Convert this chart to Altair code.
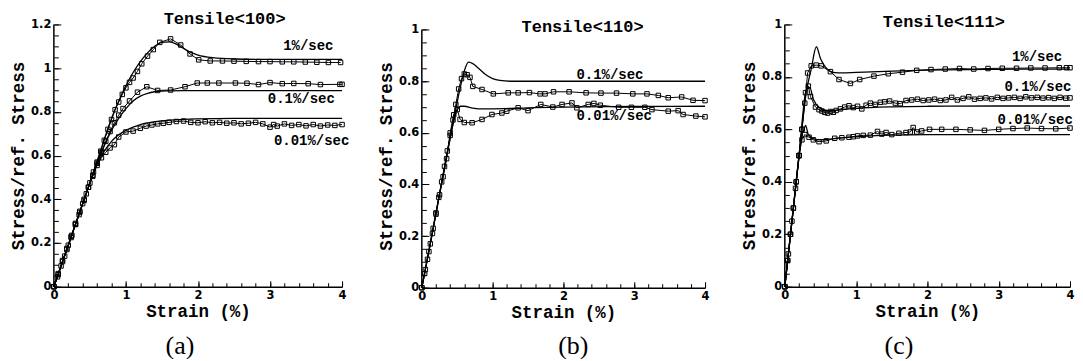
import altair as alt
import pandas as pd

# ---------------- Panel (a): Tensile<100> ----------------
a_model_1_x = [0, 0.2, 0.4, 0.6, 0.8, 0.9, 1.0, 1.1, 1.2, 1.3, 1.4, 1.5, 1.6, 1.7, 1.8, 1.9, 2.0, 2.2, 2.5, 3.0, 3.5, 4.0]
a_model_1_y = [0, 0.19, 0.38, 0.575, 0.77, 0.85, 0.92, 0.98, 1.03, 1.07, 1.10, 1.118, 1.12, 1.11, 1.09, 1.072, 1.06, 1.048, 1.042, 1.04, 1.04, 1.04]
a_exp_1_x = [0, 0.05, 0.1, 0.15, 0.2, 0.25, 0.3, 0.35, 0.4, 0.45, 0.5, 0.55, 0.6, 0.65, 0.7, 0.75, 0.8, 0.85, 0.9, 0.95,
             1.0, 1.05, 1.1, 1.16, 1.22, 1.3, 1.38, 1.47, 1.62, 1.76, 1.89, 2.01, 2.17, 2.34, 2.5, 2.67, 2.84, 3.0, 3.17, 3.33,
             3.49, 3.65, 3.81, 3.98]
a_exp_1_y = [0, 0.045, 0.095, 0.14, 0.19, 0.235, 0.285, 0.33, 0.38, 0.425, 0.475, 0.525, 0.57, 0.62, 0.67, 0.72, 0.765, 0.81, 0.845, 0.88,
             0.91, 0.935, 0.955, 0.985, 1.02, 1.055, 1.085, 1.118, 1.134, 1.106, 1.065, 1.038, 1.033, 1.033, 1.032, 1.031, 1.03, 1.03, 1.029, 1.029,
             1.028, 1.027, 1.026, 1.026]
a_model_01_x = [0, 0.2, 0.4, 0.6, 0.7, 0.8, 0.9, 1.0, 1.1, 1.2, 1.3, 1.4, 1.5, 1.6, 1.8, 2.0, 2.5, 3.0, 3.5, 4.0]
a_model_01_y = [0, 0.19, 0.38, 0.565, 0.645, 0.715, 0.77, 0.815, 0.85, 0.872, 0.885, 0.892, 0.895, 0.896, 0.897, 0.897, 0.897, 0.897, 0.897, 0.897]
a_exp_01_x = [0, 0.06, 0.12, 0.18, 0.24, 0.3, 0.36, 0.42, 0.48, 0.54, 0.6, 0.66, 0.72, 0.78, 0.84, 0.9, 0.96, 1.05, 1.16, 1.29,
              1.44, 1.62, 1.82, 1.99, 2.13, 2.29, 2.52, 2.68, 2.84, 3.0, 3.17, 3.33, 3.53, 3.7, 3.97, 4.0]
a_exp_01_y = [0, 0.055, 0.115, 0.17, 0.225, 0.285, 0.34, 0.395, 0.455, 0.51, 0.565, 0.615, 0.665, 0.71, 0.75, 0.785, 0.815, 0.85, 0.89, 0.915,
              0.898, 0.90, 0.915, 0.932, 0.932, 0.932, 0.932, 0.931, 0.925, 0.934, 0.929, 0.93, 0.929, 0.925, 0.926, 0.926]
a_model_001_x = [0, 0.2, 0.4, 0.6, 0.7, 0.8, 0.9, 1.0, 1.1, 1.2, 1.4, 1.6, 1.8, 2.0, 2.5, 3.0, 4.0]
a_model_001_y = [0, 0.19, 0.38, 0.56, 0.62, 0.665, 0.695, 0.715, 0.73, 0.742, 0.755, 0.762, 0.766, 0.768, 0.77, 0.77, 0.77]
a_exp_001_x = [0, 0.06, 0.12, 0.18, 0.24, 0.3, 0.36, 0.42, 0.48, 0.54, 0.6, 0.66, 0.72, 0.78, 0.84, 0.9, 1.0, 1.1, 1.2, 1.28,
               1.36, 1.44, 1.52, 1.6, 1.7, 1.8, 1.9, 2.0, 2.1, 2.2, 2.3, 2.4, 2.5, 2.6, 2.7, 2.8, 2.9, 3.0, 3.05, 3.1,
               3.2, 3.3, 3.4, 3.5, 3.6, 3.7, 3.8, 3.9, 4.0]
a_exp_001_y = [0, 0.06, 0.12, 0.175, 0.23, 0.29, 0.345, 0.4, 0.455, 0.505, 0.555, 0.59, 0.615, 0.635, 0.65, 0.685, 0.708, 0.712, 0.725, 0.735,
               0.74, 0.745, 0.748, 0.752, 0.756, 0.758, 0.752, 0.75, 0.755, 0.75, 0.752, 0.748, 0.75, 0.745, 0.748, 0.752, 0.745, 0.73, 0.742, 0.735,
               0.745, 0.738, 0.742, 0.736, 0.742, 0.735, 0.74, 0.738, 0.742]
a_rate_text = ["1%/sec", "0.1%/sec", "0.01%/sec"]
a_rate_x = [3.88, 3.90, 4.10]
a_rate_y = [1.10, 0.858, 0.665]

# ---------------- Panel (b): Tensile<110> ----------------
b_model_01_x = [0, 0.1, 0.2, 0.3, 0.4, 0.5, 0.55, 0.6, 0.66, 0.72, 0.8, 0.9, 1.0, 1.1, 1.25, 1.5, 2.0, 3.0, 4.0]
b_model_01_y = [0, 0.145, 0.29, 0.435, 0.58, 0.72, 0.785, 0.84, 0.874, 0.868, 0.85, 0.826, 0.81, 0.803, 0.8, 0.8, 0.8, 0.8, 0.8]
b_exp_01_x = [0, 0.04, 0.08, 0.12, 0.16, 0.2, 0.24, 0.28, 0.32, 0.36, 0.4, 0.44, 0.48, 0.52, 0.56, 0.6, 0.64, 0.68, 0.72, 0.85,
              1.01, 1.22, 1.36, 1.52, 1.67, 1.74, 1.86, 2.08, 2.32, 2.53, 2.75, 2.98, 3.18, 3.34, 3.48, 3.67, 3.83, 4.0]
b_exp_01_y = [0, 0.055, 0.11, 0.17, 0.23, 0.29, 0.35, 0.41, 0.47, 0.53, 0.59, 0.65, 0.71, 0.77, 0.81, 0.828, 0.825, 0.815, 0.78, 0.768,
              0.751, 0.755, 0.755, 0.756, 0.751, 0.751, 0.759, 0.759, 0.755, 0.754, 0.754, 0.751, 0.751, 0.745, 0.736, 0.739, 0.726, 0.725]
b_model_001_x = [0, 0.1, 0.2, 0.3, 0.4, 0.45, 0.5, 0.55, 0.6, 0.7, 0.8, 1.0, 1.5, 2.0, 3.0, 4.0]
b_model_001_y = [0, 0.145, 0.29, 0.435, 0.58, 0.645, 0.69, 0.703, 0.703, 0.697, 0.693, 0.693, 0.697, 0.70, 0.702, 0.703]
b_exp_001_x = [0, 0.05, 0.1, 0.15, 0.2, 0.25, 0.3, 0.35, 0.4, 0.45, 0.5, 0.54, 0.6, 0.71, 0.85, 0.99, 1.13, 1.2, 1.36, 1.5,
               1.68, 1.85, 1.98, 2.12, 2.19, 2.35, 2.43, 2.52, 2.78, 2.96, 3.15, 3.25, 3.48, 3.62, 3.69, 3.87, 4.0]
b_exp_001_y = [0, 0.07, 0.14, 0.21, 0.285, 0.36, 0.43, 0.5, 0.6, 0.67, 0.69, 0.652, 0.64, 0.639, 0.652, 0.671, 0.677, 0.684, 0.697, 0.686,
               0.71, 0.70, 0.71, 0.716, 0.697, 0.71, 0.714, 0.707, 0.699, 0.699, 0.699, 0.69, 0.684, 0.686, 0.671, 0.665, 0.662]
b_rate_text = ["0.1%/sec", "0.01%/sec"]
b_rate_x = [3.13, 3.25]
b_rate_y = [0.825, 0.667]

# ---------------- Panel (c): Tensile<111> ----------------
c_model_1_x = [0, 0.1, 0.2, 0.3, 0.37, 0.443, 0.5, 0.55, 0.6, 0.65, 0.7, 0.8, 1.0, 1.5, 2.0, 3.0, 4.0]
c_model_1_y = [0, 0.25, 0.5, 0.74, 0.83, 0.915, 0.87, 0.845, 0.828, 0.82, 0.816, 0.815, 0.817, 0.822, 0.826, 0.829, 0.83]
c_exp_1_x = [0, 0.04, 0.08, 0.12, 0.16, 0.2, 0.24, 0.28, 0.32, 0.37, 0.44, 0.51, 0.64, 0.76, 0.92, 1.05, 1.25, 1.45, 1.65, 1.85,
             2.05, 2.25, 2.45, 2.65, 2.85, 3.05, 3.25, 3.45, 3.65, 3.85, 3.95, 4.0]
c_exp_1_y = [0, 0.1, 0.2, 0.3, 0.4, 0.5, 0.6, 0.7, 0.815, 0.842, 0.845, 0.842, 0.82, 0.79, 0.775, 0.79, 0.803, 0.812, 0.818, 0.825,
             0.828, 0.83, 0.832, 0.83, 0.832, 0.833, 0.833, 0.834, 0.834, 0.835, 0.835, 0.835]
c_model_01_x = [0, 0.1, 0.2, 0.3, 0.35, 0.4, 0.5, 0.6, 0.8, 1.0, 1.5, 2.0, 3.0, 4.0]
c_model_01_y = [0, 0.25, 0.5, 0.75, 0.76, 0.715, 0.68, 0.67, 0.675, 0.68, 0.686, 0.688, 0.689, 0.689]
c_exp_01_x = [0, 0.04, 0.08, 0.12, 0.16, 0.2, 0.24, 0.29, 0.33, 0.36, 0.43, 0.48, 0.52, 0.56, 0.6, 0.64, 0.68, 0.72, 0.78, 0.84,
              0.9, 0.96, 1.02, 1.08, 1.14, 1.2, 1.27, 1.34, 1.4, 1.47, 1.55, 1.62, 1.7, 1.78, 1.86, 1.94, 2.02, 2.1, 2.18, 2.26,
              2.34, 2.42, 2.5, 2.58, 2.66, 2.74, 2.82, 2.9, 2.98, 3.06, 3.14, 3.22, 3.3, 3.38, 3.46, 3.54, 3.62, 3.7, 3.78, 3.86,
              3.94, 4.0]
c_exp_01_y = [0, 0.1, 0.2, 0.3, 0.4, 0.5, 0.6, 0.74, 0.765, 0.725, 0.685, 0.675, 0.67, 0.665, 0.662, 0.668, 0.665, 0.672, 0.678, 0.685,
              0.69, 0.683, 0.688, 0.678, 0.692, 0.7, 0.695, 0.703, 0.705, 0.708, 0.7, 0.698, 0.71, 0.712, 0.715, 0.71, 0.712, 0.715, 0.71, 0.712,
              0.722, 0.712, 0.718, 0.724, 0.715, 0.718, 0.72, 0.716, 0.722, 0.718, 0.72, 0.722, 0.718, 0.724, 0.72, 0.722, 0.719, 0.721, 0.718, 0.722,
              0.719, 0.72]
c_model_001_x = [0, 0.1, 0.2, 0.24, 0.27, 0.29, 0.33, 0.4, 0.5, 0.7, 1.0, 1.5, 2.0, 3.0, 4.0]
c_model_001_y = [0, 0.25, 0.5, 0.58, 0.6, 0.615, 0.58, 0.565, 0.56, 0.565, 0.572, 0.578, 0.58, 0.58, 0.58]
c_exp_001_x = [0, 0.05, 0.1, 0.15, 0.2, 0.24, 0.28, 0.34, 0.4, 0.48, 0.58, 0.7, 0.8, 0.9, 0.96, 1.02, 1.1, 1.2, 1.3, 1.36,
               1.42, 1.5, 1.6, 1.7, 1.76, 1.8, 1.85, 1.92, 2.03, 2.2, 2.4, 2.6, 2.8, 3.0, 3.2, 3.4, 3.6, 3.8, 4.0]
c_exp_001_y = [0, 0.125, 0.25, 0.375, 0.5, 0.56, 0.58, 0.57, 0.56, 0.553, 0.556, 0.566, 0.568, 0.57, 0.572, 0.575, 0.577, 0.578, 0.592, 0.582,
               0.588, 0.58, 0.585, 0.588, 0.59, 0.607, 0.59, 0.594, 0.6, 0.6, 0.6, 0.598, 0.596, 0.6, 0.603, 0.605, 0.603, 0.602, 0.605]
c_rate_text = ["1%/sec", "0.1%/sec", "0.01%/sec"]
c_rate_x = [3.89, 4.02, 4.04]
c_rate_y = [0.876, 0.762, 0.635]

titles = ["Tensile<100>", "Tensile<110>", "Tensile<111>"]
title_x = [2.37, 2.27, 2.23]
letters = ["(a)", "(b)", "(c)"]
letter_x = [1.75, 2.14, 1.60]

X_MAJOR = [0, 1, 2, 3, 4]
X_MINOR = [round(0.2 * i, 1) for i in range(21)]

FONT_MONO = "Liberation Mono"
FONT_TICK = "DejaVu Sans"
FONT_SERIF = "Liberation Serif"


def long_df(series):
    rows = []
    for name, xs, ys in series:
        assert len(xs) == len(ys), name
        for x, y in zip(xs, ys):
            rows.append({"series": name, "x": x, "y": y})
    return pd.DataFrame(rows)


def tick_axes(W, H, xvals, yvals, xsize, ysize):
    ax = alt.Axis(orient="top", offset=-H, values=xvals, ticks=True, tickSize=xsize, tickWidth=1,
                  tickColor="black", labels=False, domain=False, grid=False, title=None)
    ay = alt.Axis(orient="right", offset=-W, values=yvals, ticks=True, tickSize=ysize, tickWidth=1,
                  tickColor="black", labels=False, domain=False, grid=False, title=None)
    return ax, ay


def panel(W, H, y_top, y_scale_top, model, exp, rates, title, t_x, t_y, letter, l_x, l_y):
    xs = alt.Scale(domain=[0, 4], nice=False, zero=False)
    ys = alt.Scale(domain=[0, y_scale_top], nice=False, zero=False)
    y_major = [round(0.2 * i, 2) for i in range(int(round(y_top / 0.2)) + 1)]
    y_minor = [round(0.05 * i, 2) for i in range(int(round(y_top / 0.05)) + 1)]

    main_x = alt.X("x:Q", scale=xs, axis=alt.Axis(
        orient="bottom", values=X_MAJOR, format="d", ticks=False, grid=False, domain=True,
        domainColor="black", domainWidth=1.5, labelFont=FONT_TICK, labelFontSize=11.5,
        labelFontWeight="bold", labelColor="black", labelPadding=3, labelFlush=False,
        labelOverlap=False, title="Strain (%)", titleFont=FONT_MONO, titleFontSize=17.5,
        titleFontWeight="bold", titleColor="black", titlePadding=1))
    main_y = alt.Y("y:Q", scale=ys, axis=alt.Axis(
        orient="left", values=y_major, format="~g", ticks=False, grid=False, domain=False,
        labelFont=FONT_TICK, labelFontSize=11.5, labelFontWeight="bold", labelColor="black",
        labelPadding=3, labelFlush=False, labelOverlap=False, title="Stress/ref. Stress",
        titleFont=FONT_MONO, titleFontSize=17.5, titleFontWeight="bold", titleColor="black",
        titlePadding=3))
    mx_ax, my_ax = tick_axes(W, H, X_MAJOR, y_major, 6, 7)
    nx_ax, ny_ax = tick_axes(W, H, X_MINOR, y_minor, 4, 4.5)

    axis_df = pd.DataFrame({"x": [0], "y": [0], "y2": [y_top]})
    axis_rule = alt.Chart(axis_df).mark_rule(color="black", strokeWidth=1.5).encode(
        x=alt.X("x:Q", scale=xs, axis=mx_ax), y=alt.Y("y:Q", scale=ys, axis=my_ax), y2="y2:Q")

    model_layer = alt.Chart(model).mark_line(color="black", strokeWidth=1.3, interpolate="monotone").encode(
        x=main_x, y=main_y, detail="series:N")
    exp_line = alt.Chart(exp).mark_line(color="black", strokeWidth=1).encode(
        x=alt.X("x:Q", scale=xs, axis=nx_ax), y=alt.Y("y:Q", scale=ys, axis=ny_ax), detail="series:N")
    exp_pts = alt.Chart(exp).mark_point(shape="square", size=20, filled=False, color="black",
                                        strokeWidth=1, opacity=1).encode(
        x=alt.X("x:Q", scale=xs, axis=None), y=alt.Y("y:Q", scale=ys, axis=None))

    rate_df = pd.DataFrame({"x": rates[1], "y": rates[2], "t": rates[0]})
    rate_layer = alt.Chart(rate_df).mark_text(font=FONT_MONO, fontSize=14, fontWeight="bold", align="right",
                                              baseline="middle", color="black").encode(
        x=alt.X("x:Q", scale=xs, axis=None), y=alt.Y("y:Q", scale=ys, axis=None), text="t:N")

    title_df = pd.DataFrame({"x": [t_x], "t": [title]})
    title_layer = alt.Chart(title_df).mark_text(font=FONT_MONO, fontSize=17, fontWeight="bold", align="center",
                                                baseline="middle", color="black").encode(
        x=alt.X("x:Q", scale=xs, axis=None), y=alt.value(t_y), text="t:N")

    letter_df = pd.DataFrame({"x": [l_x], "t": [letter]})
    letter_layer = alt.Chart(letter_df).mark_text(font=FONT_SERIF, fontSize=26, align="center",
                                                  baseline="alphabetic", color="black").encode(
        x=alt.X("x:Q", scale=xs, axis=None), y=alt.value(l_y), text="t:N")

    return alt.layer(axis_rule, model_layer, exp_line, exp_pts, rate_layer, title_layer, letter_layer).resolve_axis(
        x="independent", y="independent").properties(width=W, height=H)


pa = panel(289, 263, 1.2, 1.2,
           long_df([("1", a_model_1_x, a_model_1_y), ("0.1", a_model_01_x, a_model_01_y), ("0.01", a_model_001_x, a_model_001_y)]),
           long_df([("1", a_exp_1_x, a_exp_1_y), ("0.1", a_exp_01_x, a_exp_01_y), ("0.01", a_exp_001_x, a_exp_001_y)]),
           (a_rate_text, a_rate_x, a_rate_y), titles[0], title_x[0], -5, letters[0], letter_x[0], 330)
pb = panel(284, 264, 1.0, 1.02,
           long_df([("0.1", b_model_01_x, b_model_01_y), ("0.01", b_model_001_x, b_model_001_y)]),
           long_df([("0.1", b_exp_01_x, b_exp_01_y), ("0.01", b_exp_001_x, b_exp_001_y)]),
           (b_rate_text, b_rate_x, b_rate_y), titles[1], title_x[1], 3, letters[1], letter_x[1], 330)
pc = panel(286, 263, 1.0, 1.0,
           long_df([("1", c_model_1_x, c_model_1_y), ("0.1", c_model_01_x, c_model_01_y), ("0.01", c_model_001_x, c_model_001_y)]),
           long_df([("1", c_exp_1_x, c_exp_1_y), ("0.1", c_exp_01_x, c_exp_01_y), ("0.01", c_exp_001_x, c_exp_001_y)]),
           (c_rate_text, c_rate_x, c_rate_y), titles[2], title_x[2], -2, letters[2], letter_x[2], 330)

chart = alt.hconcat(pa, pb, pc, spacing=80, bounds="flush").properties(
    padding={"left": 1, "top": 2, "right": 0, "bottom": 0}, background="white"
).configure_view(stroke=None)

chart.save("out.html", embed_options={"renderer": "svg", "actions": False})
